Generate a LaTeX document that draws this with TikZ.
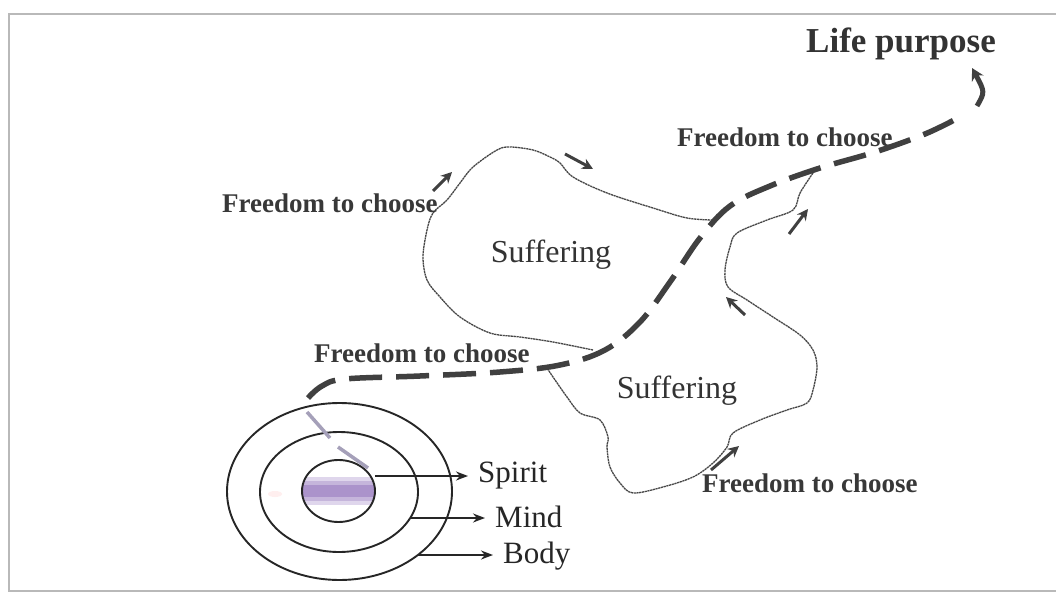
\documentclass[tikz,border=0pt]{standalone}
\usepackage{fontspec}
\setmainfont{Liberation Serif}
\usetikzlibrary{arrows.meta,shapes.geometric}
\definecolor{lav}{RGB}{150,120,190}
\definecolor{lavgray}{RGB}{165,160,185}
\begin{document}
\begin{tikzpicture}[x=1pt,y=-1pt,
  frame/.style={draw=gray!55,line width=1.6},
  ring/.style={draw=black!85,line width=1.9},
  lab/.style={text=black!78,font=\fontsize{27}{30}\selectfont\bfseries,inner sep=0},
  big/.style={text=black!80,font=\fontsize{32}{36}\selectfont,inner sep=0},
  part/.style={text=black!85,font=\fontsize{31}{34}\selectfont,inner sep=0},
  outline/.style={draw=black!72,line width=1.3,dash pattern=on 2.2 off 0.6},
  pathdash/.style={draw=black!75,line width=5.5,dash pattern=on 33 off 14},
  smallarrow/.style={draw=black!75,line width=3,-{Stealth[length=11,width=11]}},
  partarrow/.style={draw=black!85,line width=1.7,-{Stealth[length=12,width=9]},shorten >=10}
]
\useasboundingbox (0,0) rectangle (1056,593);
\fill[white] (0,0) rectangle (1056,593);
% frame
\draw[frame] (1056,14) -- (9,14) -- (9,591) -- (1056,591);

% rings
\begin{scope}
  \clip (338.5,491) ellipse [x radius=36.5,y radius=31];
  \fill[lav!30] (300,477) rectangle (377,505);
  \fill[lav!55] (300,481) rectangle (377,501);
  \fill[lav!80] (300,485) rectangle (377,497);
\end{scope}
\fill[pink!40,opacity=0.6] (275,494) ellipse [x radius=7,y radius=3];
\node[ring,ellipse,minimum width=225,minimum height=177,inner sep=0] (body) at (339.5,491.5) {};
\node[ring,ellipse,minimum width=158,minimum height=120,inner sep=0] (mind) at (339,492) {};
\node[ring,ellipse,minimum width=73,minimum height=62,inner sep=0] (spirit) at (338.5,491) {};
\draw[draw=lavgray,line width=3.5] (307,412) -- (330,438);
\draw[draw=lavgray,line width=3.5] (338,447) -- (368,468);

% part labels
\node[part,anchor=base west] (tS) at (478,482) {Spirit};
\node[part,anchor=base west] (tM) at (495,527) {Mind};
\node[part,anchor=base west] (tB) at (503,563) {Body};
\coordinate (aS) at (375,476);
\coordinate (aM) at (410,518);
\coordinate (aB) at (418,555);
\draw[partarrow] (aS) -- (aS -| tS.west);
\draw[partarrow] (aM) -- (aM -| tM.west);
\draw[partarrow] (aB) -- (aB -| tB.west);

% suffering outlines
\draw[outline] plot[smooth,tension=0.55] coordinates {
 (713,220) (687,218) (653,208) (607,193) (573,177) (560,163) (550,157) (533,150)
 (510,147) (497,150) (473,167) (460,183) (447,200) (433,213) (427,230) (423,257)
 (427,280) (440,297) (460,317) (490,333) (520,337) (553,342) (593,350)};
\draw[outline] plot[smooth,tension=0.55] coordinates {
 (813,173) (800,193) (793,210) (767,220) (737,233) (730,247) (725,270) (728,287)
 (747,300) (773,317) (800,335) (813,350) (817,367) (813,390) (807,403) (787,410)
 (760,420) (733,433) (727,447) (713,463) (693,477) (663,487) (633,493) (620,483)
 (610,467) (607,447) (608,437) (600,420) (580,413) (567,397) (553,377) (547,368)};

% suffering labels
\node[big,anchor=base] (s1) at (551,262) {Suffering};
\node[big,anchor=base] (s2) at (677,398) {Suffering};

% small arrows
\coordinate (m1a) at (433,191); \coordinate (m1b) at (452,172);
\coordinate (m2a) at (565,154); \coordinate (m2b) at (593,169);
\coordinate (m3a) at (789,234); \coordinate (m3b) at (808,209);
\coordinate (m4a) at (745,315); \coordinate (m4b) at (726,297);
\coordinate (m5a) at (711,470); \coordinate (m5b) at (739,446);
\draw[smallarrow] (m1a) -- (m1b);
\draw[smallarrow] (m2a) -- (m2b);
\draw[smallarrow] (m3a) -- (m3b);
\draw[smallarrow] (m4a) -- (m4b);
\draw[smallarrow] (m5a) -- (m5b);

% freedom labels
\node[lab,anchor=base west] (f1) at (222,213) {Freedom to choose};
\node[lab,anchor=base west] (f2) at (677,147) {Freedom to choose};
\node[lab,anchor=base west] (f3) at (314,362) {Freedom to choose};
\node[lab,anchor=base west] (f4) at (702,492) {Freedom to choose};

% life purpose
\node[text=black!80,font=\fontsize{35}{40}\selectfont\bfseries,inner sep=0,anchor=base] (lp) at (901,53) {Life purpose};

% main dashed path
\coordinate (p0) at (308,398);
\coordinate (p1) at (958,118);
\coordinate (p2) at (977,106);
\coordinate (p3) at (972,68);
\draw[pathdash] plot[smooth,tension=0.6] coordinates {
 (p0) (322,386) (345,379) (420,376) (500,372) (560,365) (605,350) (640,322)
 (670,282) (700,238) (730,206) (770,186) (820,168) (875,152) (925,134) (p1)};
\draw[draw=black!75,line width=5,-{Stealth[length=12,width=13]}] (p2) .. controls (985,92) .. (p3);
\end{tikzpicture}
\end{document}
